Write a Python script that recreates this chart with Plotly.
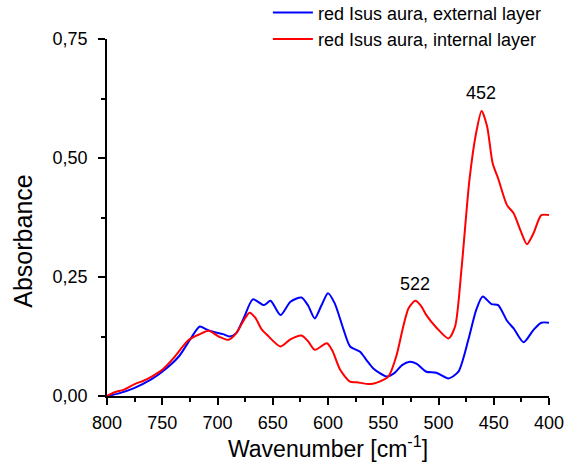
import plotly.graph_objects as go

wn_ext = [800, 790, 776, 760, 750, 735, 725, 716, 710, 704, 695, 689, 683, 676, 668, 658, 652, 643, 634, 624, 618, 612, 606, 600, 594, 586, 580, 571, 565, 559, 547, 540, 533, 526, 520, 511, 502, 491, 482, 473, 466, 460, 452, 446, 438, 432, 423, 414, 407, 400]
abs_ext = [0.0, 0.005, 0.016, 0.035, 0.051, 0.083, 0.118, 0.146, 0.140, 0.135, 0.130, 0.125, 0.132, 0.165, 0.203, 0.191, 0.200, 0.170, 0.198, 0.207, 0.190, 0.163, 0.190, 0.216, 0.195, 0.140, 0.104, 0.093, 0.075, 0.058, 0.041, 0.048, 0.065, 0.072, 0.068, 0.051, 0.049, 0.037, 0.051, 0.118, 0.180, 0.209, 0.193, 0.191, 0.158, 0.142, 0.113, 0.139, 0.154, 0.154]

wn_int = [800, 793, 785, 775, 767, 758, 750, 740, 726, 716, 708, 699, 690, 683, 676, 671, 666, 660, 655, 643, 634, 624, 618, 612, 601, 596, 589, 580, 574, 562, 550, 545, 538, 532, 527, 521, 516, 511, 502, 491, 485, 479, 472, 466, 461, 456, 451, 446, 438, 432, 426, 420, 414, 407, 400]
abs_int = [0.0, 0.008, 0.013, 0.025, 0.032, 0.043, 0.055, 0.079, 0.118, 0.130, 0.137, 0.125, 0.118, 0.132, 0.160, 0.175, 0.165, 0.140, 0.128, 0.104, 0.119, 0.127, 0.115, 0.097, 0.111, 0.095, 0.055, 0.030, 0.029, 0.025, 0.034, 0.042, 0.085, 0.145, 0.185, 0.200, 0.190, 0.170, 0.144, 0.121, 0.146, 0.272, 0.454, 0.552, 0.599, 0.566, 0.489, 0.457, 0.401, 0.384, 0.349, 0.319, 0.342, 0.380, 0.380]

series_names = ["red Isus aura, external layer", "red Isus aura, internal layer"]
peak_labels = ["452", "522"]
peak_x = [461.5, 521.5]
peak_y = [0.637, 0.235]

FONT = "Arial, Liberation Sans, sans-serif"

fig = go.Figure()
fig.add_trace(go.Scatter(x=wn_ext, y=abs_ext, mode="lines", name=series_names[0],
                         line=dict(color="#0000FF", width=2, shape="spline", smoothing=0.7)))
fig.add_trace(go.Scatter(x=wn_int, y=abs_int, mode="lines", name=series_names[1],
                         line=dict(color="#FF0000", width=2, shape="spline", smoothing=0.7)))

for t, x, y in zip(peak_labels, peak_x, peak_y):
    fig.add_annotation(x=x, y=y, text=t, showarrow=False, xref="x", yref="y",
                       font=dict(size=18, color="black", family=FONT))

fig.add_annotation(x=-0.227, y=0.434, xref="paper", yref="paper", text="Absorbance",
                   textangle=-90, showarrow=False, font=dict(size=25, color="black", family=FONT))

fig.update_layout(
    width=570, height=469,
    margin=dict(l=107, r=21, t=39, b=73, autoexpand=False),
    paper_bgcolor="white", plot_bgcolor="white",
    separators=",.",
    font=dict(family=FONT, color="black", size=18),
    showlegend=True,
    legend=dict(x=0.364, y=1.125, xanchor="left", yanchor="top", bgcolor="rgba(0,0,0,0)",
                font=dict(size=18, family=FONT), tracegroupgap=0, itemwidth=40),
    xaxis=dict(range=[800, 400], tickvals=[800, 750, 700, 650, 600, 550, 500, 450, 400],
               ticks="outside", ticklen=7, tickwidth=1.8, tickcolor="black", ticklabelstandoff=2,
               showline=True, linecolor="black", linewidth=1.8, showgrid=False, zeroline=False,
               minor=dict(tickvals=[775, 725, 675, 625, 575, 525, 475, 425], ticks="outside", ticklen=4, tickwidth=1.8, tickcolor="black"),
               title=dict(text="Wavenumber [cm<sup>-1</sup>]", font=dict(size=23, family=FONT), standoff=0),
               tickfont=dict(size=18, family=FONT)),
    yaxis=dict(range=[0, 0.75], tickvals=[0, 0.25, 0.5, 0.75], tickformat=".2f",
               ticks="outside", ticklen=7, tickwidth=1.8, tickcolor="black", ticklabelstandoff=7,
               showline=True, linecolor="black", linewidth=1.8, showgrid=False, zeroline=False,
               minor=dict(tickvals=[0.125, 0.375, 0.625], ticks="outside", ticklen=4, tickwidth=1.8, tickcolor="black"),
               tickfont=dict(size=18, family=FONT)),
)

fig.write_html("out.html")
